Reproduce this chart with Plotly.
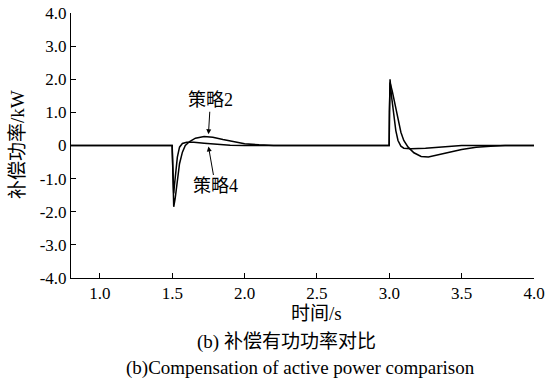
import plotly.graph_objects as go

# Strategy 2 (slower recovery, larger overshoot)
t_s2 = [0.8, 1.0, 1.2, 1.4, 1.499, 1.5, 1.505, 1.51, 1.52, 1.53, 1.54, 1.55, 1.57, 1.59, 1.62, 1.66,
        1.72, 1.78, 1.85, 1.92, 2.0, 2.1, 2.2, 2.5, 2.8, 2.999, 3.001, 3.005, 3.02, 3.04, 3.06,
        3.08, 3.1, 3.13, 3.17, 3.22, 3.27, 3.33, 3.4, 3.5, 3.6, 3.7, 3.8, 4.0]
p_s2 = [0.0, 0.0, 0.0, 0.0, 0.0, -0.1, -1.0, -1.85, -1.6, -1.2, -0.85, -0.55, -0.2, 0.0, 0.12, 0.22,
        0.27, 0.25, 0.18, 0.11, 0.05, 0.02, 0.0, 0.0, 0.0, 0.0, 1.0, 1.9, 1.65, 1.2, 0.75,
        0.4, 0.15, -0.05, -0.22, -0.33, -0.35, -0.3, -0.22, -0.12, -0.05, -0.02, 0.0, 0.0]

# Strategy 4 (faster recovery)
t_s4 = [0.8, 1.0, 1.2, 1.4, 1.499, 1.5, 1.505, 1.51, 1.515, 1.525, 1.535, 1.55, 1.57, 1.6, 1.65,
        1.72, 1.8, 1.9, 2.0, 2.5, 2.999, 3.001, 3.005, 3.015, 3.03, 3.045, 3.06, 3.08, 3.1,
        3.15, 3.25, 3.35, 3.45, 3.5, 4.0]
p_s4 = [0.0, 0.0, 0.0, 0.0, 0.0, -0.2, -1.2, -1.45, -1.2, -0.7, -0.35, -0.05, 0.06, 0.1, 0.1,
        0.07, 0.04, 0.01, 0.0, 0.0, 0.0, 1.0, 2.0, 1.5, 0.9, 0.45, 0.15, -0.02, -0.08,
        -0.1, -0.08, -0.05, -0.02, 0.0, 0.0]

x_ticks = [1.0, 1.5, 2.0, 2.5, 3.0, 3.5, 4.0]
x_labels = ["1.0", "1.5", "2.0", "2.5", "3.0", "3.5", "4.0"]
y_ticks = [-4, -3, -2, -1, 0, 1, 2, 3, 4]
y_labels = ["-4.0", "-3.0", "-2.0", "-1.0", "0", "1.0", "2.0", "3.0", "4.0"]

SERIF = "Liberation Serif"
CJK = "Liberation Serif, Noto Sans CJK SC"

W, H = 546, 382
L, R, T, B = 71, 12, 13, 104
pw, ph = W - L - R, H - T - B


def px_x(x):
    return (x - L) / pw


def px_y(y):
    return 1 - (y - T) / ph


fig = go.Figure()
fig.add_trace(go.Scatter(x=t_s2, y=p_s2, mode="lines", line=dict(color="black", width=1.5),
                         name="策略2", showlegend=False))
fig.add_trace(go.Scatter(x=t_s4, y=p_s4, mode="lines", line=dict(color="black", width=1.5),
                         name="策略4", showlegend=False))

fig.add_annotation(x=1.75, y=0.34, xref="x", yref="y", text="策略2", showarrow=True,
                   arrowhead=2, arrowsize=1, arrowwidth=1, arrowcolor="black",
                   ax=2, ay=-34, font=dict(family=CJK, size=18, color="black"))
fig.add_annotation(x=1.75, y=-0.03, xref="x", yref="y", text="策略4", showarrow=True,
                   arrowhead=2, arrowsize=1, arrowwidth=1, arrowcolor="black",
                   ax=7, ay=40, font=dict(family=CJK, size=18, color="black"))

captions = [
    (286, 342, "(b) 补偿有功功率对比", CJK, 19, 0),
    (300, 368, "(b)Compensation of active power comparison", SERIF, 19, 0),
    (316, 313, "时间/s", CJK, 19, 0),
    (17, 145, "补偿功率/kW", CJK, 19, -90),
]
for cx, cy, txt, fam, sz, ang in captions:
    fig.add_annotation(x=px_x(cx), y=px_y(cy), xref="paper", yref="paper", text=txt,
                       xanchor="center", yanchor="middle", textangle=ang,
                       showarrow=False, font=dict(family=fam, size=sz, color="black"))

fig.update_layout(
    width=W, height=H,
    margin=dict(l=L, r=R, t=T, b=B, autoexpand=False),
    paper_bgcolor="white", plot_bgcolor="white",
    font=dict(family=SERIF, size=17, color="black"),
    xaxis=dict(range=[0.8, 4.0], tickvals=x_ticks, ticktext=x_labels, automargin=False,
               ticks="inside", ticklen=5, tickcolor="black", showline=True,
               linecolor="black", linewidth=1, showgrid=False, zeroline=False,
               tickfont=dict(family=SERIF, size=17)),
    yaxis=dict(range=[-4.0, 4.0], tickvals=y_ticks, ticktext=y_labels, automargin=False,
               ticks="inside", ticklen=5, tickcolor="black", showline=True,
               linecolor="black", linewidth=1, showgrid=False, zeroline=False,
               tickfont=dict(family=SERIF, size=17)),
)

fig.write_html("out.html")
